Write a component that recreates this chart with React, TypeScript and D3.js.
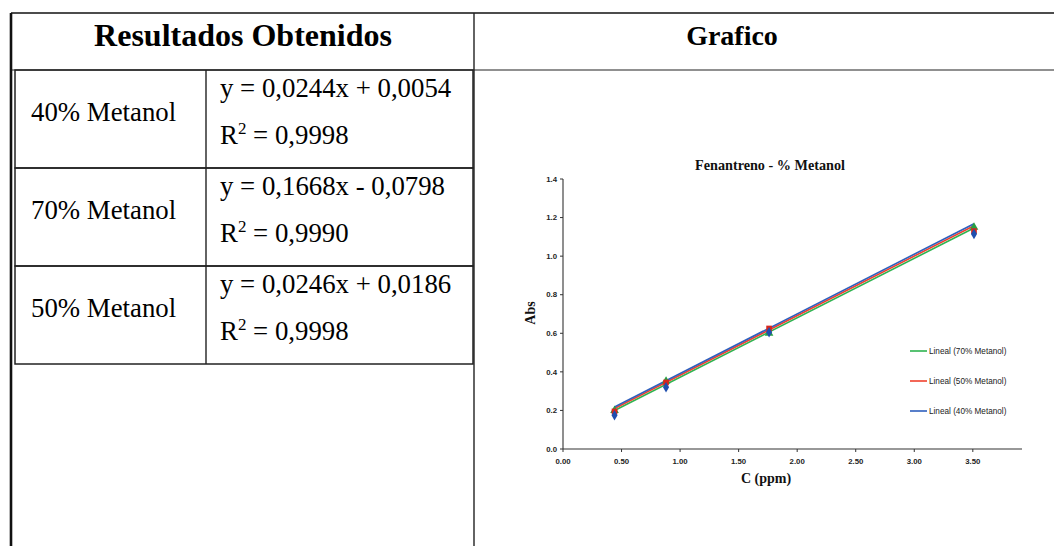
import React from 'react';
import * as d3 from 'd3';

// table content
const tableLabels = ['40% Metanol', '70% Metanol', '50% Metanol'];
const equations = ['y = 0,0244x + 0,0054', 'y = 0,1668x - 0,0798', 'y = 0,0246x + 0,0186'];
const r2Values = ['0,9998', '0,9990', '0,9998'];

// chart data
const conc = [0.44, 0.88, 1.76, 3.51];
const abs40 = [0.175, 0.32, 0.605, 1.115];
const abs50 = [0.195, 0.345, 0.625, 1.13];
const abs70 = [0.2, 0.352, 0.6, 1.15];

const trendNames = ['Lineal (70% Metanol)', 'Lineal (50% Metanol)', 'Lineal (40% Metanol)'];
const trendSlopes = [0.3081, 0.3088, 0.3094];
const trendIntercepts = [0.0644, 0.074, 0.082];
const trendColors = ['#2fb350', '#f0412e', '#2f5fbd'];

const xTicks = [0, 0.5, 1, 1.5, 2, 2.5, 3, 3.5];
const yTicks = [0, 0.2, 0.4, 0.6, 0.8, 1.0, 1.2, 1.4];

const W = 1054;
const H = 546;

const serif = '"Liberation Serif", "Times New Roman", serif';
const sans = '"Liberation Sans", Arial, sans-serif';

const Table = () => {
  const left = 11;
  const innerLeft = 15;
  const divider = 474;
  const colDiv = 206;
  const top = 13;
  const headBottom = 70;
  const rows = d3.scaleBand<number>().domain(d3.range(tableLabels.length)).range([70, 364]);

  return (
    <g>
      <line x1={left} x2={W} y1={top} y2={top} stroke="#111" strokeWidth={1.6} />
      <line x1={left} x2={W} y1={headBottom} y2={headBottom} stroke="#222" strokeWidth={1.2} />
      <line x1={left} x2={left} y1={top} y2={H} stroke="#111" strokeWidth={2.6} />
      <line x1={divider} x2={divider} y1={top} y2={H} stroke="#222" strokeWidth={1.4} />
      <text x={243} y={46} textAnchor="middle" fontFamily={serif} fontWeight="bold" fontSize={32} fill="#000">
        Resultados Obtenidos
      </text>
      <text x={732} y={45} textAnchor="middle" fontFamily={serif} fontWeight="bold" fontSize={28} fill="#000">
        Grafico
      </text>
      {tableLabels.map((lab, i) => {
        const y0 = rows(i) as number;
        const h = rows.bandwidth();
        return (
          <g key={lab}>
            <rect x={innerLeft} y={y0} width={divider - innerLeft - 1} height={h} fill="none" stroke="#222" strokeWidth={1.5} />
            <line x1={colDiv} x2={colDiv} y1={y0} y2={y0 + h} stroke="#222" strokeWidth={1.4} />
            <text x={31} y={y0 + 51} fontFamily={serif} fontSize={26.8} fill="#000">{lab}</text>
            <text x={220} y={y0 + 27} fontFamily={serif} fontSize={26.8} fill="#000">{equations[i]}</text>
            <text x={220} y={y0 + 74} fontFamily={serif} fontSize={26.8} fill="#000">
              R<tspan fontSize={17} dy={-10}>2</tspan><tspan dy={10}> = {r2Values[i]}</tspan>
            </text>
          </g>
        );
      })}
    </g>
  );
};

const Chart = () => {
  const x = d3.scaleLinear().domain([0, 3.92]).range([563, 1022]);
  const y = d3.scaleLinear().domain([0, 1.4]).range([449, 179]);

  const series = [
    { values: abs70, color: '#27a043', shape: d3.symbolTriangle },
    { values: abs50, color: '#d9261c', shape: d3.symbolSquare },
    { values: abs40, color: '#1f4fae', shape: d3.symbolDiamond },
  ];

  const xEnds = [conc[0], conc[conc.length - 1]];

  return (
    <g>
      <text x={770} y={170} textAnchor="middle" fontFamily={serif} fontWeight="bold" fontSize={14.2} fill="#111">
        Fenantreno - % Metanol
      </text>
      {/* axes */}
      <line x1={x(0)} x2={x(0)} y1={y(1.4)} y2={y(0)} stroke="#333" strokeWidth={1.1} />
      <line x1={x(0)} x2={x.range()[1]} y1={y(0)} y2={y(0)} stroke="#333" strokeWidth={1.1} />
      {yTicks.map((t) => (
        <g key={'y' + t}>
          <line x1={x(0) - 3} x2={x(0)} y1={y(t)} y2={y(t)} stroke="#333" />
          <text x={x(0) - 6} y={y(t)} dy="0.35em" textAnchor="end" fontFamily={sans} fontWeight="bold" fontSize={7.8} fill="#222">
            {d3.format('.1f')(t)}
          </text>
        </g>
      ))}
      {xTicks.map((t) => (
        <g key={'x' + t}>
          <line x1={x(t)} x2={x(t)} y1={y(0)} y2={y(0) + 3} stroke="#333" />
          <text x={x(t)} y={y(0) + 15} textAnchor="middle" fontFamily={sans} fontWeight="bold" fontSize={7.8} fill="#222">
            {d3.format('.2f')(t)}
          </text>
        </g>
      ))}
      <text x={766} y={483} textAnchor="middle" fontFamily={serif} fontWeight="bold" fontSize={14} fill="#111">
        C (ppm)
      </text>
      <text transform={`translate(535,313) rotate(-90)`} textAnchor="middle" fontFamily={serif} fontWeight="bold" fontSize={14} fill="#111">
        Abs
      </text>
      {/* trend lines */}
      {trendNames.map((n, i) => (
        <line
          key={n}
          x1={x(xEnds[0])}
          x2={x(xEnds[1])}
          y1={y(trendSlopes[i] * xEnds[0] + trendIntercepts[i])}
          y2={y(trendSlopes[i] * xEnds[1] + trendIntercepts[i])}
          stroke={trendColors[i]}
          strokeWidth={1.6}
        />
      ))}
      {/* markers */}
      {series.map((s, si) =>
        s.values.map((v, j) => (
          <path
            key={si + '-' + j}
            d={d3.symbol().type(s.shape).size(32)() as string}
            transform={`translate(${x(conc[j])},${y(v)})`}
            fill={s.color}
          />
        ))
      )}
      {/* legend */}
      {trendNames.map((n, i) => (
        <g key={'lg' + n} transform={`translate(910,${351 + i * 30})`}>
          <line x1={0} x2={17} y1={0} y2={0} stroke={trendColors[i]} strokeWidth={1.6} />
          <text x={19} y={0} dy="0.35em" fontFamily={sans} fontSize={8.2} fill="#222">
            {n}
          </text>
        </g>
      ))}
    </g>
  );
};

export default function App() {
  return (
    <svg
      width={W}
      height={H}
      viewBox={`0 0 ${W} ${H}`}
      style={{ position: 'absolute', left: 0, top: 0, display: 'block', background: '#fff' }}
    >
      <rect width={W} height={H} fill="#fff" />
      <Table />
      <Chart />
    </svg>
  );
}
